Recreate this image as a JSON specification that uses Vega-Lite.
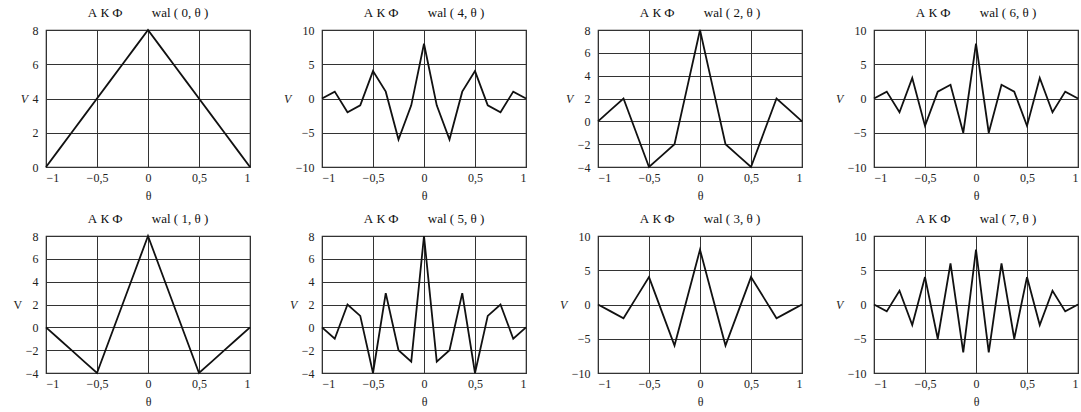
{
  "$schema": "https://vega.github.io/schema/vega-lite/v6.json",
  "background": "white",
  "padding": {"left": 12, "top": 6, "right": 0, "bottom": 0},
  "bounds": "flush",
  "columns": 4,
  "spacing": {"row": 69, "column": 72},
  "datasets": {
    "w0": [{"theta":-1,"R":0},{"theta":-0.875,"R":1},{"theta":-0.75,"R":2},{"theta":-0.625,"R":3},{"theta":-0.5,"R":4},{"theta":-0.375,"R":5},{"theta":-0.25,"R":6},{"theta":-0.125,"R":7},{"theta":0,"R":8},{"theta":0.125,"R":7},{"theta":0.25,"R":6},{"theta":0.375,"R":5},{"theta":0.5,"R":4},{"theta":0.625,"R":3},{"theta":0.75,"R":2},{"theta":0.875,"R":1},{"theta":1,"R":0}],
    "w1": [{"theta":-1,"R":0},{"theta":-0.875,"R":-1},{"theta":-0.75,"R":-2},{"theta":-0.625,"R":-3},{"theta":-0.5,"R":-4},{"theta":-0.375,"R":-1},{"theta":-0.25,"R":2},{"theta":-0.125,"R":5},{"theta":0,"R":8},{"theta":0.125,"R":5},{"theta":0.25,"R":2},{"theta":0.375,"R":-1},{"theta":0.5,"R":-4},{"theta":0.625,"R":-3},{"theta":0.75,"R":-2},{"theta":0.875,"R":-1},{"theta":1,"R":0}],
    "w2": [{"theta":-1,"R":0},{"theta":-0.875,"R":1},{"theta":-0.75,"R":2},{"theta":-0.625,"R":-1},{"theta":-0.5,"R":-4},{"theta":-0.375,"R":-3},{"theta":-0.25,"R":-2},{"theta":-0.125,"R":3},{"theta":0,"R":8},{"theta":0.125,"R":3},{"theta":0.25,"R":-2},{"theta":0.375,"R":-3},{"theta":0.5,"R":-4},{"theta":0.625,"R":-1},{"theta":0.75,"R":2},{"theta":0.875,"R":1},{"theta":1,"R":0}],
    "w3": [{"theta":-1,"R":0},{"theta":-0.875,"R":-1},{"theta":-0.75,"R":-2},{"theta":-0.625,"R":1},{"theta":-0.5,"R":4},{"theta":-0.375,"R":-1},{"theta":-0.25,"R":-6},{"theta":-0.125,"R":1},{"theta":0,"R":8},{"theta":0.125,"R":1},{"theta":0.25,"R":-6},{"theta":0.375,"R":-1},{"theta":0.5,"R":4},{"theta":0.625,"R":1},{"theta":0.75,"R":-2},{"theta":0.875,"R":-1},{"theta":1,"R":0}],
    "w4": [{"theta":-1,"R":0},{"theta":-0.875,"R":1},{"theta":-0.75,"R":-2},{"theta":-0.625,"R":-1},{"theta":-0.5,"R":4},{"theta":-0.375,"R":1},{"theta":-0.25,"R":-6},{"theta":-0.125,"R":-1},{"theta":0,"R":8},{"theta":0.125,"R":-1},{"theta":0.25,"R":-6},{"theta":0.375,"R":1},{"theta":0.5,"R":4},{"theta":0.625,"R":-1},{"theta":0.75,"R":-2},{"theta":0.875,"R":1},{"theta":1,"R":0}],
    "w5": [{"theta":-1,"R":0},{"theta":-0.875,"R":-1},{"theta":-0.75,"R":2},{"theta":-0.625,"R":1},{"theta":-0.5,"R":-4},{"theta":-0.375,"R":3},{"theta":-0.25,"R":-2},{"theta":-0.125,"R":-3},{"theta":0,"R":8},{"theta":0.125,"R":-3},{"theta":0.25,"R":-2},{"theta":0.375,"R":3},{"theta":0.5,"R":-4},{"theta":0.625,"R":1},{"theta":0.75,"R":2},{"theta":0.875,"R":-1},{"theta":1,"R":0}],
    "w6": [{"theta":-1,"R":0},{"theta":-0.875,"R":1},{"theta":-0.75,"R":-2},{"theta":-0.625,"R":3},{"theta":-0.5,"R":-4},{"theta":-0.375,"R":1},{"theta":-0.25,"R":2},{"theta":-0.125,"R":-5},{"theta":0,"R":8},{"theta":0.125,"R":-5},{"theta":0.25,"R":2},{"theta":0.375,"R":1},{"theta":0.5,"R":-4},{"theta":0.625,"R":3},{"theta":0.75,"R":-2},{"theta":0.875,"R":1},{"theta":1,"R":0}],
    "w7": [{"theta":-1,"R":0},{"theta":-0.875,"R":-1},{"theta":-0.75,"R":2},{"theta":-0.625,"R":-3},{"theta":-0.5,"R":4},{"theta":-0.375,"R":-5},{"theta":-0.25,"R":6},{"theta":-0.125,"R":-7},{"theta":0,"R":8},{"theta":0.125,"R":-7},{"theta":0.25,"R":6},{"theta":0.375,"R":-5},{"theta":0.5,"R":4},{"theta":0.625,"R":-3},{"theta":0.75,"R":2},{"theta":0.875,"R":-1},{"theta":1,"R":0}]
  },
  "concat": [
    {
      "title": "А\u00a0К\u00a0Ф\u00a0\u00a0\u00a0\u00a0\u00a0\u00a0\u00a0\u00a0\u00a0wal ( 0, θ )",
      "width": 204, "height": 137,
      "data": {"name": "w0"},
      "mark": {"type": "line"},
      "encoding": {
        "x": {"field": "theta", "type": "quantitative", "scale": {"domain": [-1, 1], "nice": false}, "axis": {"values": [-1, -0.5, 0, 0.5, 1], "title": "θ"}},
        "y": {"field": "R", "type": "quantitative", "scale": {"domain": [0, 8], "nice": false, "zero": false}, "axis": {"values": [0, 2, 4, 6, 8], "title": "V"}}
      }
    },
    {
      "title": "А\u00a0К\u00a0Ф\u00a0\u00a0\u00a0\u00a0\u00a0\u00a0\u00a0\u00a0\u00a0wal ( 4, θ )",
      "width": 204, "height": 137,
      "data": {"name": "w4"},
      "mark": {"type": "line"},
      "encoding": {
        "x": {"field": "theta", "type": "quantitative", "scale": {"domain": [-1, 1], "nice": false}, "axis": {"values": [-1, -0.5, 0, 0.5, 1], "title": "θ"}},
        "y": {"field": "R", "type": "quantitative", "scale": {"domain": [-10, 10], "nice": false}, "axis": {"values": [-10, -5, 0, 5, 10], "title": "V"}}
      }
    },
    {
      "title": "А\u00a0К\u00a0Ф\u00a0\u00a0\u00a0\u00a0\u00a0\u00a0\u00a0\u00a0\u00a0wal ( 2, θ )",
      "width": 204, "height": 137,
      "data": {"name": "w2"},
      "mark": {"type": "line"},
      "encoding": {
        "x": {"field": "theta", "type": "quantitative", "scale": {"domain": [-1, 1], "nice": false}, "axis": {"values": [-1, -0.5, 0, 0.5, 1], "title": "θ"}},
        "y": {"field": "R", "type": "quantitative", "scale": {"domain": [-4, 8], "nice": false}, "axis": {"values": [-4, -2, 0, 2, 4, 6, 8], "title": "V"}}
      }
    },
    {
      "title": "А\u00a0К\u00a0Ф\u00a0\u00a0\u00a0\u00a0\u00a0\u00a0\u00a0\u00a0\u00a0wal ( 6, θ )",
      "width": 204, "height": 137,
      "data": {"name": "w6"},
      "mark": {"type": "line"},
      "encoding": {
        "x": {"field": "theta", "type": "quantitative", "scale": {"domain": [-1, 1], "nice": false}, "axis": {"values": [-1, -0.5, 0, 0.5, 1], "title": "θ"}},
        "y": {"field": "R", "type": "quantitative", "scale": {"domain": [-10, 10], "nice": false}, "axis": {"values": [-10, -5, 0, 5, 10], "title": "V"}}
      }
    },
    {
      "title": "А\u00a0К\u00a0Ф\u00a0\u00a0\u00a0\u00a0\u00a0\u00a0\u00a0\u00a0\u00a0wal ( 1, θ )",
      "width": 204, "height": 137,
      "data": {"name": "w1"},
      "mark": {"type": "line"},
      "encoding": {
        "x": {"field": "theta", "type": "quantitative", "scale": {"domain": [-1, 1], "nice": false}, "axis": {"values": [-1, -0.5, 0, 0.5, 1], "title": "θ"}},
        "y": {"field": "R", "type": "quantitative", "scale": {"domain": [-4, 8], "nice": false}, "axis": {"values": [-4, -2, 0, 2, 4, 6, 8], "title": "V", "titleFontStyle": "normal"}}
      }
    },
    {
      "title": "А\u00a0К\u00a0Ф\u00a0\u00a0\u00a0\u00a0\u00a0\u00a0\u00a0\u00a0\u00a0wal ( 5, θ )",
      "width": 204, "height": 137,
      "data": {"name": "w5"},
      "mark": {"type": "line"},
      "encoding": {
        "x": {"field": "theta", "type": "quantitative", "scale": {"domain": [-1, 1], "nice": false}, "axis": {"values": [-1, -0.5, 0, 0.5, 1], "title": "θ"}},
        "y": {"field": "R", "type": "quantitative", "scale": {"domain": [-4, 8], "nice": false}, "axis": {"values": [-4, -2, 0, 2, 4, 6, 8], "title": "V"}}
      }
    },
    {
      "title": "А\u00a0К\u00a0Ф\u00a0\u00a0\u00a0\u00a0\u00a0\u00a0\u00a0\u00a0\u00a0wal ( 3, θ )",
      "width": 204, "height": 137,
      "data": {"name": "w3"},
      "mark": {"type": "line"},
      "encoding": {
        "x": {"field": "theta", "type": "quantitative", "scale": {"domain": [-1, 1], "nice": false}, "axis": {"values": [-1, -0.5, 0, 0.5, 1], "title": "θ"}},
        "y": {"field": "R", "type": "quantitative", "scale": {"domain": [-10, 10], "nice": false}, "axis": {"values": [-10, -5, 0, 5, 10], "title": "V"}}
      }
    },
    {
      "title": "А\u00a0К\u00a0Ф\u00a0\u00a0\u00a0\u00a0\u00a0\u00a0\u00a0\u00a0\u00a0wal ( 7, θ )",
      "width": 204, "height": 137,
      "data": {"name": "w7"},
      "mark": {"type": "line"},
      "encoding": {
        "x": {"field": "theta", "type": "quantitative", "scale": {"domain": [-1, 1], "nice": false}, "axis": {"values": [-1, -0.5, 0, 0.5, 1], "title": "θ"}},
        "y": {"field": "R", "type": "quantitative", "scale": {"domain": [-10, 10], "nice": false}, "axis": {"values": [-10, -5, 0, 5, 10], "title": "V"}}
      }
    }
  ],
  "config": {
    "font": "Liberation Serif",
    "view": {"stroke": "#222", "strokeWidth": 1.2},
    "line": {"stroke": "#111", "strokeWidth": 1.8},
    "title": {"font": "Liberation Serif", "fontSize": 13, "fontWeight": "normal", "color": "#111", "offset": 4, "anchor": "middle"},
    "axis": {
      "labelFont": "Liberation Serif", "labelFontSize": 12, "labelColor": "#222",
      "titleFont": "Liberation Serif", "titleFontSize": 12, "titleFontWeight": "normal", "titleColor": "#222",
      "ticks": false, "domain": false,
      "gridColor": "#333", "gridOpacity": 1, "gridWidth": 1,
      "labelExpr": "replace(format(datum.value, '~g'), '.', ',')"
    },
    "axisX": {"titlePadding": 7, "labelPadding": 5, "labelOverlap": false},
    "axisY": {"titleAngle": 0, "titleFontStyle": "italic", "titlePadding": 8, "labelPadding": 8, "titleBaseline": "middle", "labelOverlap": false}
  }
}
